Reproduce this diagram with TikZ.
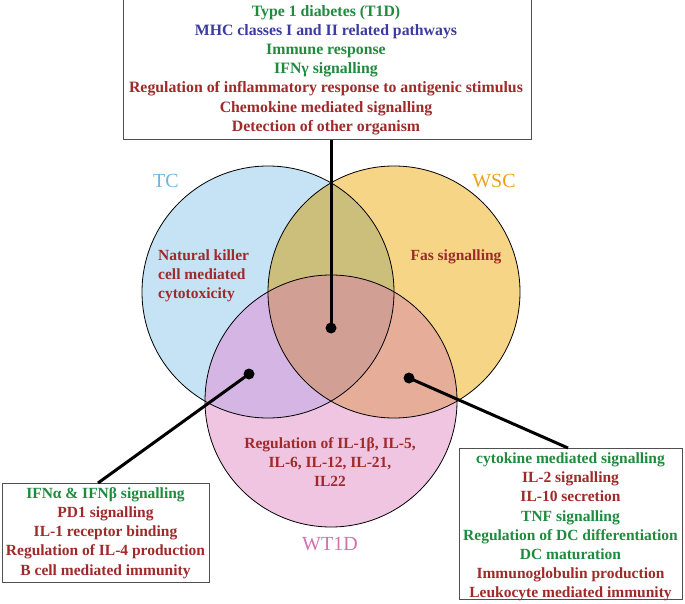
\documentclass[tikz,border=0pt]{standalone}
\usepackage{fontspec}
\setmainfont{Liberation Serif}
\definecolor{tcfill}{HTML}{C5E3F4}
\definecolor{wscfill}{HTML}{F7D587}
\definecolor{wtfill}{HTML}{F0C5E2}
\definecolor{tcwsc}{HTML}{CCBE7B}
\definecolor{tcwt}{HTML}{D4B5E4}
\definecolor{wscwt}{HTML}{E6AD99}
\definecolor{allthree}{HTML}{D29F94}
\definecolor{tclab}{HTML}{6DB6DF}
\definecolor{wsclab}{HTML}{E9A319}
\definecolor{wtlab}{HTML}{D46FB0}
\definecolor{tgreen}{HTML}{1F8B3E}
\definecolor{tblue}{HTML}{3B3BA0}
\definecolor{tred}{HTML}{9E2A2A}
\definecolor{boxgray}{HTML}{505050}
\tikzset{
  txt/.style={font=\fontsize{15.5}{19.2}\selectfont\bfseries, align=center, inner sep=0pt},
  toptxtstyle/.style={font=\fontsize{15.8}{19.2}\selectfont\bfseries, align=center, inner sep=0pt},
  infobox/.style={draw=boxgray, line width=1pt, fill=white, inner sep=0pt},
  setlabel/.style={font=\fontsize{20}{24}\selectfont, inner sep=0pt},
  conn/.style={line width=3pt, black},
  dotnode/.style={circle, fill=black, minimum size=11pt, inner sep=0pt},
  circline/.style={line width=0.8pt, black}
}
\begin{document}
\begin{tikzpicture}[x=1pt,y=-1pt]
\useasboundingbox (0,0) rectangle (685,604);
\def\R{126}
\coordinate (ctc) at (268,292);
\coordinate (cwsc) at (394,292);
\coordinate (cwt) at (331,401);
% base fills
\fill[tcfill] (ctc) circle (\R);
\fill[wscfill] (cwsc) circle (\R);
\fill[wtfill] (cwt) circle (\R);
% pairwise
\begin{scope}\clip (ctc) circle (\R); \fill[tcwsc] (cwsc) circle (\R);\end{scope}
\begin{scope}\clip (ctc) circle (\R); \fill[tcwt] (cwt) circle (\R);\end{scope}
\begin{scope}\clip (cwsc) circle (\R); \fill[wscwt] (cwt) circle (\R);\end{scope}
\begin{scope}\clip (ctc) circle (\R); \clip (cwsc) circle (\R); \fill[allthree] (cwt) circle (\R);\end{scope}
% outlines
\draw[circline] (ctc) circle (\R);
\draw[circline] (cwsc) circle (\R);
\draw[circline] (cwt) circle (\R);
% set labels
\node[setlabel, text=tclab] (ltc) at (166,181) {TC};
\node[setlabel, text=wsclab] (lwsc) at (494,181) {WSC};
\node[setlabel, text=wtlab] (lwt) at (330,544) {WT1D};
% region texts
\node[txt, text=tred, align=left, anchor=west] (nk) at (158,276) {Natural killer\\cell mediated\\cytotoxicity};
\node[txt, text=tred] (fas) at (456,257) {Fas signalling};
\node[txt, text=tred] (il) at (330,462) {Regulation of IL-1β, IL-5,\\IL-6, IL-12, IL-21,\\IL22};
% boxes
\node[infobox, minimum width=408pt, minimum height=140pt] (topbox) at (327,70) {};
\node[infobox, minimum width=207pt, minimum height=99pt] (leftbox) at (105.5,532.5) {};
\node[infobox, minimum width=223pt, minimum height=151pt] (rightbox) at (570.5,523.5) {};
% dots
\node[dotnode] (dc) at (331,328) {};
\node[dotnode] (dl) at (249,374) {};
\node[dotnode] (dr) at (409,378) {};
\coordinate (lend) at (98,483);
\coordinate (rend) at (568,448);
% connectors
\draw[conn] (dc.center) -- (dc.center |- topbox.south);
\draw[conn] (dl.center) -- (lend);
\draw[conn] (dr.center) -- (rend);
% box texts
\node[toptxtstyle] (toptxt) at (326,70) {%
\textcolor{tgreen}{Type 1 diabetes (T1D)}\\
\textcolor{tblue}{MHC classes I and II related pathways}\\
\textcolor{tgreen}{Immune response}\\
\textcolor{tgreen}{IFNγ signalling}\\
\textcolor{tred}{Regulation of inflammatory response to antigenic stimulus}\\
\textcolor{tred}{Chemokine mediated signalling}\\
\textcolor{tred}{Detection of other organism}};
\node[txt] (lefttxt) at (105.5,533) {%
\textcolor{tgreen}{IFNα \& IFNβ signalling}\\
\textcolor{tred}{PD1 signalling}\\
\textcolor{tred}{IL-1 receptor binding}\\
\textcolor{tred}{Regulation of IL-4 production}\\
\textcolor{tred}{B cell mediated immunity}};
\node[txt] (righttxt) at (570.5,527) {%
\textcolor{tgreen}{cytokine mediated signalling}\\
\textcolor{tred}{IL-2 signalling}\\
\textcolor{tred}{IL-10 secretion}\\
\textcolor{tgreen}{TNF signalling}\\
\textcolor{tgreen}{Regulation of DC differentiation}\\
\textcolor{tgreen}{DC maturation}\\
\textcolor{tred}{Immunoglobulin production}\\
\textcolor{tred}{Leukocyte mediated immunity}};
\end{tikzpicture}
\end{document}
